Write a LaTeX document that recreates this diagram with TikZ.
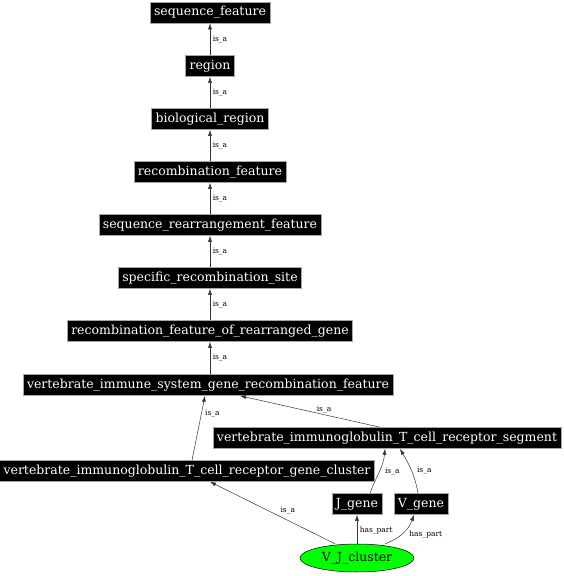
\documentclass[tikz,border=0pt]{standalone}
\usepackage{fontspec}
\setmainfont{DejaVu Serif}
\usetikzlibrary{arrows.meta,shapes.geometric}
\begin{document}
\begin{tikzpicture}[x=1pt,y=1pt,
 term/.style={fill=black, draw=gray!70, line width=0.6pt, text=white, font=\fontsize{12.5}{14}\selectfont, minimum height=21pt, inner xsep=4pt, inner ysep=0pt},
 rel/.style={draw=black!80, line width=0.5pt, -{Latex[length=6pt,width=4pt]}},
 lbl/.style={font=\fontsize{7.5}{8}\selectfont, inner sep=1.5pt}]
\useasboundingbox (0,0) rectangle (563,-576);
\node[term] (sf) at (210,-12.5) {sequence\_feature};
\node[term] (reg) at (210,-66) {region};
\node[term] (bio) at (210,-119) {biological\_region};
\node[term] (rf) at (210,-172) {recombination\_feature};
\node[term] (srf) at (210,-225) {sequence\_rearrangement\_feature};
\node[term] (srs) at (210,-278) {specific\_recombination\_site};
\node[term] (rfrg) at (210,-331) {recombination\_feature\_of\_rearranged\_gene};
\node[term] (vis) at (208,-385) {vertebrate\_immune\_system\_gene\_recombination\_feature};
\node[term] (seg) at (387,-438) {vertebrate\_immunoglobulin\_T\_cell\_receptor\_segment};
\node[term] (gc) at (187,-471) {vertebrate\_immunoglobulin\_T\_cell\_receptor\_gene\_cluster};
\node[term] (jg) at (357,-504) {J\_gene};
\node[term] (vg) at (421,-504) {V\_gene};
\node[ellipse, fill=green, draw=black, line width=0.5pt, minimum width=114pt, minimum height=28pt, inner sep=0pt, font=\fontsize{12.5}{14}\selectfont] (vj) at (357,-558) {V\_J\_cluster};

\draw[rel] (reg) -- node[lbl, right, xshift=1pt] (l1) {is\_a} (sf);
\draw[rel] (bio) -- node[lbl, right, xshift=1pt] (l2) {is\_a} (reg);
\draw[rel] (rf) -- node[lbl, right, xshift=1pt] (l3) {is\_a} (bio);
\draw[rel] (srf) -- node[lbl, right, xshift=1pt] (l4) {is\_a} (rf);
\draw[rel] (srs) -- node[lbl, right, xshift=1pt] (l5) {is\_a} (srf);
\draw[rel] (rfrg) -- node[lbl, right, xshift=1pt] (l6) {is\_a} (srs);
\draw[rel] (vis.north -| rfrg.south) -- node[lbl, right, xshift=1pt] (l7) {is\_a} (rfrg);
\draw[rel] ([xshift=5pt]gc.north) -- node[lbl, right, pos=0.72, xshift=2pt] (l8) {is\_a} ([xshift=-3pt]vis.south);
\draw[rel] ([xshift=-7pt]seg.north) -- node[lbl, above, pos=0.4, inner sep=1pt] (l9) {is\_a} ([xshift=32pt]vis.south);
\draw[rel] ([xshift=13pt]jg.north) to[out=70,in=-95] node[lbl, right, pos=0.5, xshift=4pt] (l10) {is\_a} ([xshift=-2pt]seg.south);
\draw[rel] ([xshift=-3pt]vg.north) to[out=100,in=-60] node[lbl, right, pos=0.5, xshift=4pt] (l11) {is\_a} ([xshift=13pt]seg.south);
\draw[rel] ([xshift=-22pt]vj.north) -- node[lbl, above right, pos=0.45] (l12) {is\_a} ([xshift=23pt]gc.south);
\draw[rel] (vj.north) -- node[lbl, right, pos=0.45, xshift=1pt] (l13) {has\_part} (jg.south);
\draw[rel] ([xshift=28pt]vj.north) to[out=20,in=-110] node[lbl, right, pos=0.45, xshift=6pt] (l14) {has\_part} ([xshift=-7pt]vg.south);
\end{tikzpicture}
\end{document}
